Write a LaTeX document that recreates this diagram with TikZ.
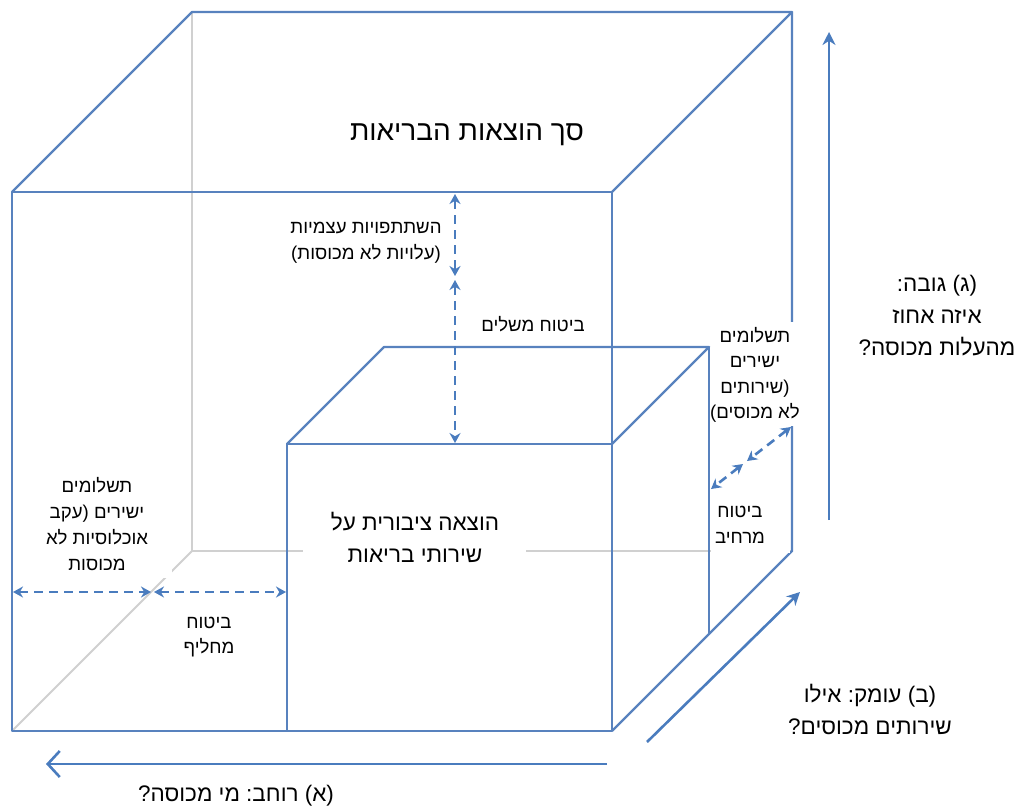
\documentclass[tikz,border=0pt]{standalone}
\usepackage{fontspec}
\usetikzlibrary{arrows.meta}
\TeXXeTstate=1
\frenchspacing
\newfontfamily\heb[Script=Hebrew]{Liberation Sans}
\newcommand\hr[1]{\beginR #1\endR}
\definecolor{boxblue}{RGB}{88,130,190}
\definecolor{arrblue}{RGB}{74,124,190}
\definecolor{hidgray}{RGB}{208,208,208}
\begin{document}
\begin{tikzpicture}[x=1pt,y=-1pt,
  edge/.style={draw=boxblue,line width=2.4pt},
  hidden/.style={draw=hidgray,line width=2pt},
  dasharrow/.style={draw=arrblue,line width=2.6pt,dash pattern=on 9pt off 6pt,
     {Stealth[length=10pt,width=11pt]}-{Stealth[length=10pt,width=11pt]}},
  bigarrow/.style={draw=arrblue,line width=2.6pt,-{Stealth[length=13pt,width=13pt]}},
  openarrow/.style={draw=arrblue,line width=2.6pt,-{Straight Barb[length=12pt,width=26pt,line width=2.6pt]}},
  patch/.style={fill=white},
  big/.style={font=\heb\fontsize{28}{32}\selectfont,align=center,inner sep=0pt},
  mid/.style={font=\heb\fontsize{22.5}{32}\selectfont,align=center,inner sep=0pt},
  small/.style={font=\heb\fontsize{18.6}{25.5}\selectfont,align=center,inner sep=0pt}
]
\useasboundingbox (0,0) rectangle (1022,809);
% outer box
\coordinate (OFTL) at (12,192);
\coordinate (OFTR) at (612,192);
\coordinate (OFBL) at (12,731);
\coordinate (OFBR) at (612,731);
\coordinate (OBTL) at (192,12);
\coordinate (OBTR) at (792,12);
\coordinate (OBBL) at (192,551);
\coordinate (OBBR) at (792,551);
% inner box
\coordinate (IFTL) at (287,444);
\coordinate (IFTR) at (612,444);
\coordinate (IFBL) at (287,731);
\coordinate (IBTL) at (384,347);
\coordinate (IBTR) at (709,347);
\coordinate (IBBR) at (709,634);
% hidden edges
\draw[hidden] (OBTL) -- (OBBL) -- (OBBR);
\draw[hidden] (OBBL) -- (OFBL);
% outer visible edges
\draw[edge,line join=round] (OFBL) -- (OFTL) -- (OFTR) -- (OFBR) -- cycle;
\draw[edge,line join=round] (OFTL) -- (OBTL) -- (OBTR) -- (OFTR);
\draw[edge,line join=round] (OBTR) -- (OBBR) -- (OFBR);
% inner visible edges
\draw[edge] (IFBL) -- (IFTL) -- (IFTR);
\draw[edge,line join=round] (IFTL) -- (IBTL) -- (IBTR) -- (IFTR);
\draw[edge] (IBTR) -- (IBBR);
% white patches under labels
\fill[patch] (25,468) rectangle (172,578);
\fill[patch] (303,506) rectangle (526,572);
\fill[patch] (711,322) rectangle (800,426);
\fill[patch] (711,494) rectangle (790,553);
% dashed arrows
\coordinate (v1) at (455,194);
\coordinate (v2) at (455,276);
\coordinate (v3) at (455,280);
\coordinate (v4) at (455,443);
\draw[dasharrow] (v1) -- (v2);
\draw[dasharrow] (v3) -- (v4);
\coordinate (h1) at (13,592);
\coordinate (h2) at (151,592);
\coordinate (h3) at (154,592);
\coordinate (h4) at (286,592);
\draw[dasharrow] (h1) -- (h2);
\draw[dasharrow] (h3) -- (h4);
\coordinate (d1) at (791,427);
\coordinate (d2) at (747,461);
\coordinate (d3) at (743,464);
\coordinate (d4) at (711,489);
\draw[dasharrow] (d1) -- (d2);
\draw[dasharrow] (d3) -- (d4);
% dimension arrows
\coordinate (ht0) at (829,520);
\coordinate (ht1) at (829,32);
\draw[bigarrow] (ht0) -- (ht1);
\coordinate (dp0) at (647,742);
\coordinate (dp1) at (800,592);
\draw[bigarrow] (dp0) -- (dp1);
\coordinate (wd0) at (607,764);
\coordinate (wd1) at (46,764);
\draw[openarrow] (wd0) -- (wd1);
% labels
\node[big] (total) at (467,135) {\hr{סך הוצאות הבריאות}};
\node[small] (copay) at (366,243) {\hr{השתתפויות עצמיות}\\\hr{(עלויות לא מכוסות)}};
\node[small] (suppl) at (533,324) {\hr{ביטוח משלים}};
\node[small] (oopr) at (755,375) {\hr{תשלומים}\\\hr{ישירים}\\\hr{(שירותים}\\\hr{לא מכוסים)}};
\node[small] (expand) at (740,525) {\hr{ביטוח}\\\hr{מרחיב}};
\node[mid] (height) at (937,316) {\hr{(ג) גובה:}\\\hr{איזה אחוז}\\\hr{מהעלות מכוסה?}};
\node[small,font=\heb\fontsize{18.6}{26}\selectfont] (oopl) at (97,524) {\hr{תשלומים}\\\hr{ישירים (עקב}\\\hr{אוכלוסיות לא}\\\hr{מכוסות}};
\node[mid] (public) at (415,537) {\hr{הוצאה ציבורית על}\\\hr{שירותי בריאות}};
\node[small] (subst) at (209,637) {\hr{ביטוח}\\\hr{מחליף}};
\node[mid] (depth) at (870,709) {\hr{(ב) עומק: אילו}\\\hr{שירותים מכוסים?}};
\node[mid] (width) at (236,796) {\hr{(א) רוחב: מי מכוסה?}};
\end{tikzpicture}
\end{document}
